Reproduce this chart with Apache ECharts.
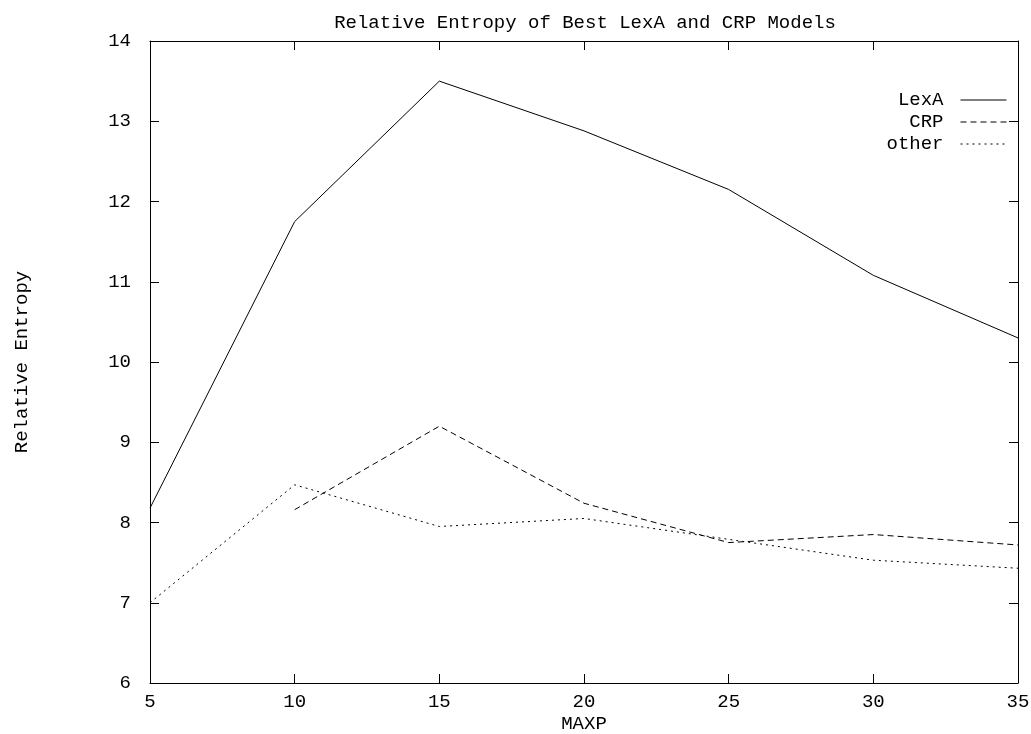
<!DOCTYPE html>
<html>
<head>
<meta charset="utf-8">
<script src="https://cdn.jsdelivr.net/npm/echarts@6/dist/echarts.min.js"></script>
<style>html,body{margin:0;padding:0;background:#fff}#c{width:1031px;height:734px}</style>
</head>
<body>
<div id="c"></div>
<script>
const maxp = [5, 10, 15, 20, 25, 30, 35];
const lexA = [8.18, 11.75, 13.5, 12.88, 12.15, 11.08, 10.3];
const crp = [null, 8.16, 9.2, 8.24, 7.75, 7.85, 7.72];
const other = [7.0, 8.47, 7.95, 8.05, 7.79, 7.53, 7.43];
const seriesNames = ['LexA', 'CRP', 'other'];
const titleText = 'Relative Entropy of Best LexA and CRP Models';
const xName = 'MAXP';
const yName = 'Relative Entropy';

const font = '"Liberation Mono", "DejaVu Sans Mono", monospace';
const fs = 19;
const pair = arr => maxp.map((x, i) => [x, arr[i]]);

const chart = echarts.init(document.getElementById('c'), null, {renderer: 'canvas'});
const xBase = {type: 'value', min: 5, max: 35, interval: 5, splitLine: {show: false},
  axisLine: {show: true, lineStyle: {color: '#000', width: 1}},
  axisTick: {show: true, inside: true, length: 9, lineStyle: {color: '#000'}}};
const yBase = {type: 'value', min: 6, max: 14, interval: 1, splitLine: {show: false},
  axisLine: {show: true, lineStyle: {color: '#000', width: 1}},
  axisTick: {show: true, inside: true, length: 9, lineStyle: {color: '#000'}}};

chart.setOption({
  animation: false,
  backgroundColor: '#fff',
  title: {text: titleText, left: 580, top: 8, textAlign: 'center',
    textStyle: {fontFamily: font, fontSize: fs, fontWeight: 'normal', color: '#000'}},
  grid: {left: 150, right: 13, top: 41, bottom: 51, show: false, containLabel: false, outerBoundsMode: 'none'},
  legend: {
    orient: 'vertical', right: 24, top: 89, align: 'right', padding: 0,
    itemWidth: 46, itemHeight: 10, itemGap: 0,
    itemStyle: {opacity: 0},
    lineStyle: {width: 1},
    textStyle: {fontFamily: font, fontSize: fs, color: '#000', padding: [0, 12, 0, 0], lineHeight: 22},
    data: seriesNames
  },
  xAxis: [
    Object.assign({}, xBase, {position: 'bottom', name: xName, nameLocation: 'middle', nameGap: 31,
      nameMoveOverlap: false,
      nameTextStyle: {fontFamily: font, fontSize: fs, color: '#000'},
      axisLabel: {fontFamily: font, fontSize: fs, color: '#000', margin: 9}}),
    Object.assign({}, xBase, {position: 'top', axisLabel: {show: false}})
  ],
  yAxis: [
    Object.assign({}, yBase, {position: 'left', name: yName, nameLocation: 'middle', nameGap: 119,
      nameMoveOverlap: false,
      nameTextStyle: {fontFamily: font, fontSize: fs, color: '#000'},
      axisLabel: {fontFamily: font, fontSize: fs, color: '#000', margin: 19}}),
    Object.assign({}, yBase, {position: 'right', axisLabel: {show: false}})
  ],
  series: [
    {name: seriesNames[0], type: 'line', data: pair(lexA), symbol: 'none', color: '#000',
      lineStyle: {color: '#000', width: 1, type: 'solid'}},
    {name: seriesNames[1], type: 'line', data: pair(crp), symbol: 'none', color: '#000',
      lineStyle: {color: '#000', width: 1, type: [6, 4]}},
    {name: seriesNames[2], type: 'line', data: pair(other), symbol: 'none', color: '#000',
      lineStyle: {color: '#000', width: 1, type: [2, 4]}}
  ]
});
</script>
</body>
</html>
